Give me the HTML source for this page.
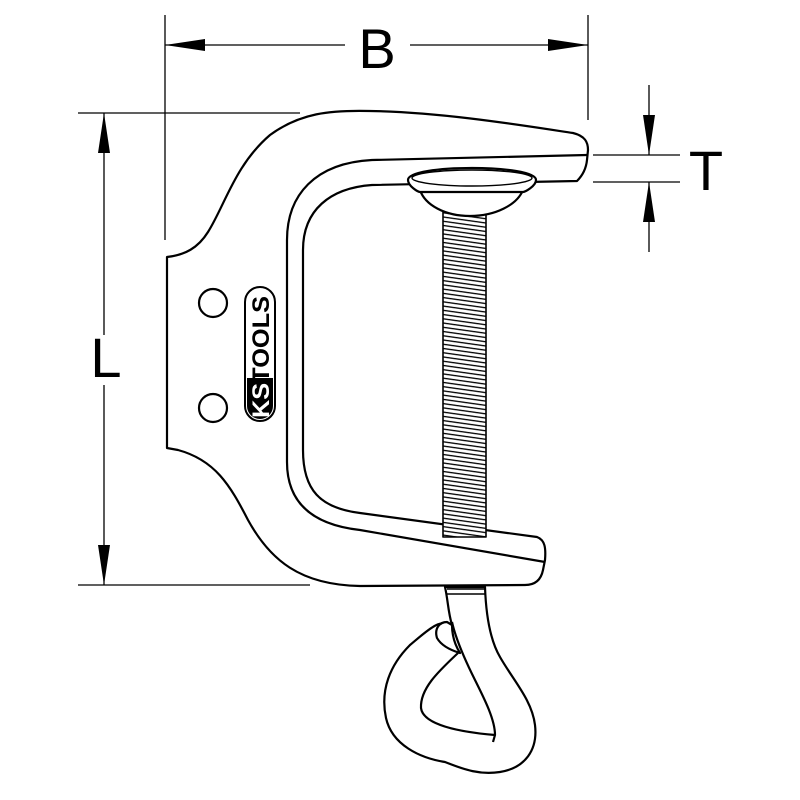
<!DOCTYPE html>
<html><head><meta charset="utf-8"><style>html,body{margin:0;padding:0;background:#fff}svg{display:block}</style></head>
<body>
<svg width="800" height="800" viewBox="0 0 800 800" xmlns="http://www.w3.org/2000/svg">
<defs>
<pattern id="thr" width="8" height="4.2" patternUnits="userSpaceOnUse" patternTransform="rotate(8)">
<rect width="8" height="4.2" fill="#fff"/><line x1="0" y1="2" x2="8" y2="2" stroke="#000" stroke-width="1.3"/>
</pattern>
</defs>
<g stroke="#000" stroke-width="1.3" fill="none">
<line x1="165" y1="15" x2="165" y2="240"/>
<line x1="588" y1="15" x2="588" y2="120"/>
<line x1="165" y1="45" x2="345" y2="45"/>
<line x1="410" y1="45" x2="588" y2="45"/>
<line x1="78" y1="113" x2="300" y2="113"/>
<line x1="78" y1="585" x2="310" y2="585"/>
<line x1="104" y1="113" x2="104" y2="335"/>
<line x1="104" y1="385" x2="104" y2="585"/>
<line x1="593" y1="155" x2="680" y2="155"/>
<line x1="593" y1="182" x2="680" y2="182"/>
<line x1="649" y1="85" x2="649" y2="155"/>
<line x1="649" y1="182" x2="649" y2="252"/>
</g>
<g fill="#000">
<polygon points="165,45 205,39 205,51"/>
<polygon points="588,45 548,39 548,51"/>
<polygon points="104,113 98,153 110,153"/>
<polygon points="104,585 98,545 110,545"/>
<polygon points="649,155 643,115 655,115"/>
<polygon points="649,182 643,222 655,222"/>
</g>
<g font-family="Liberation Sans, sans-serif" font-size="56" fill="#000" text-anchor="middle">
<text x="377" y="68">B</text>
<text x="106" y="377">L</text>
<text x="706" y="190">T</text>
</g>
<g stroke="#000" stroke-width="2.2" fill="#fff" stroke-linejoin="round">
<path d="M167,257 C185,255 198,248 208,232 C225,205 235,165 270,135 C300,113 330,110 370,111 C440,112 520,125 573,133 C585,136 588,142 588,150 L587,160 C586,170 582,176 577,181 L372,185 C330,188 303,210 303,250 L303,450 C303,490 320,508 360,513 L537,537 C545,540 546,548 545,560 L543,570 C541,580 535,585 525,585 L360,586 C300,585 270,560 248,520 C230,485 215,460 178,450 L167,448 Z"/>
<path fill="none" d="M587,155 L372,160 C315,163 287,195 287,240 L287,462 C287,505 315,525 360,530 L545,562"/>
<path d="M445,587 C448,600 448,612 452,625 C440,618 428,630 410,645 C390,665 380,690 386,718 C392,745 420,758 445,762 C465,770 480,775 500,772 C525,768 538,750 535,725 C532,700 513,680 500,657 C490,640 486,615 485,587 Z"/>
<path fill="none" d="M452,622 C456,640 465,660 475,680 C485,700 495,720 495,735 L493,742"/>
<path fill="none" d="M458,653 C440,670 420,688 421,708 C423,725 460,732 495,735"/>
<path d="M447,622 C440,622 434,628 437,638 C441,645 450,650 460,653 C455,645 452,635 452,625 Z"/>
<line x1="447" y1="589" x2="484" y2="589" stroke-width="1.5"/>
<line x1="447" y1="594" x2="485" y2="594" stroke-width="1.5"/>
<rect x="443" y="212" width="43" height="325" fill="url(#thr)" stroke-width="1.6"/>
<path d="M420,190 C425,205 445,216 470,216 C495,216 517,205 523,190 Z"/>
<path d="M408,180 C408,172 440,168 472,168 C504,168 536,172 536,180 C536,186 525,192 523,192 L420,192 C418,192 408,186 408,180 Z"/>
<ellipse cx="472" cy="178" rx="60" ry="8" fill="none" stroke-width="1.4"/>
<circle cx="213" cy="303" r="14"/>
<circle cx="213" cy="408" r="14"/>
</g>
<rect x="245" y="287" width="30" height="134" rx="15" fill="#fff" stroke="#000" stroke-width="2"/>
<path d="M247,378 L273,378 L273,406 A13,13 0 0 1 247,406 Z" fill="#000"/>
<text transform="translate(269,418) rotate(-90)" font-family="Liberation Sans, sans-serif" font-weight="bold" font-size="24" textLength="122" lengthAdjust="spacingAndGlyphs" fill="#000"><tspan fill="#fff">KS</tspan>TOOLS</text>
</svg>
</body></html>
